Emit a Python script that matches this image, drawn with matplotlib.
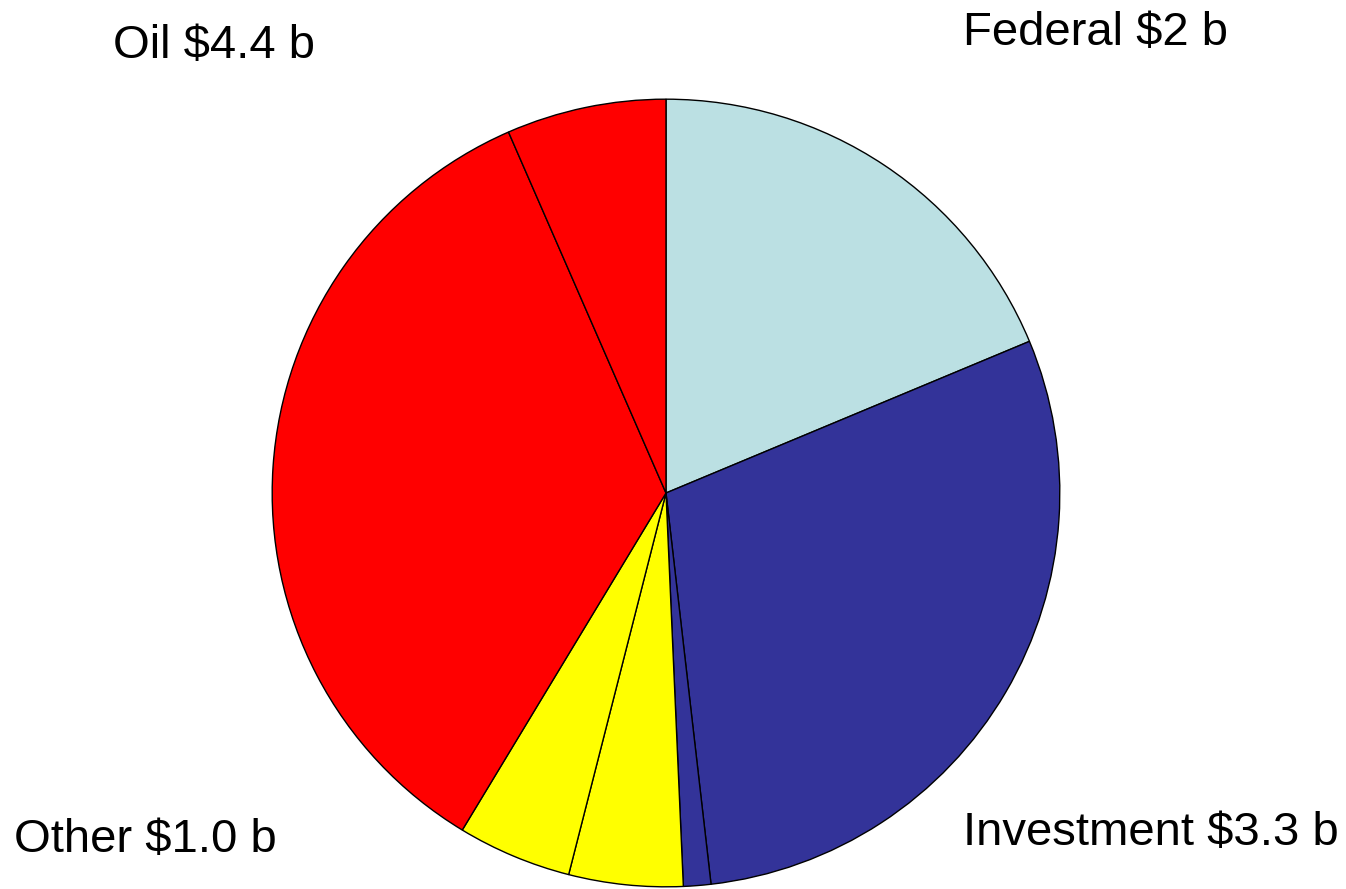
import matplotlib
matplotlib.use("Agg")
import matplotlib.pyplot as plt

# slice values in $ billions, clockwise from 12 o'clock
values = [2.0, 3.15, 0.12, 0.5, 0.5, 3.72, 0.7]
colors = ['#BBE0E3', '#333399', '#333399', '#FFFF00', '#FFFF00', '#FF0000', '#FF0000']

labels = ['Federal $2 b', 'Investment $3.3 b', 'Other $1.0 b', 'Oil $4.4 b']
label_px = [(963, 45), (963, 845), (14, 852), (113, 58)]

W, H = 1346, 889
fig = plt.figure(figsize=(W / 100, H / 100), dpi=100)
plt.rcParams['font.family'] = ['Liberation Sans', 'DejaVu Sans']

# pie centre (666, 493), radius 395 px
cx, cy, r = 666, 493, 395
ax = fig.add_axes([(cx - r) / W, (H - cy - r) / H, 2 * r / W, 2 * r / H])
ax.pie(values, colors=colors, startangle=90, counterclock=False, radius=1,
       wedgeprops=dict(edgecolor='black', linewidth=1.0))
ax.set_xlim(-1.003, 1.003)
ax.set_ylim(-1.003, 1.003)
ax.set_aspect('equal')
ax.axis('off')

for txt, (x, y) in zip(labels, label_px):
    fig.text(x / W, 1 - y / H, txt, fontsize=34, ha='left', va='baseline')

fig.savefig('out.png', dpi=100, facecolor='white')
